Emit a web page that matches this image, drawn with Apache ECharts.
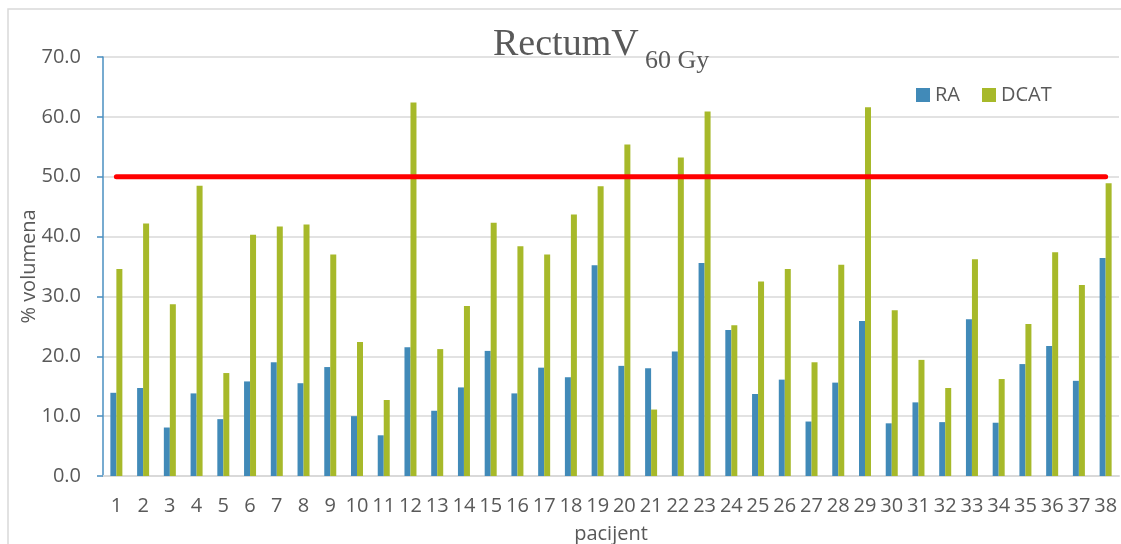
<!DOCTYPE html>
<html>
<head>
<meta charset="utf-8">
<script src="https://cdn.jsdelivr.net/npm/echarts@6/dist/echarts.min.js"></script>
<style>
  html, body { margin: 0; padding: 0; background: #fff; }
  #chart { width: 1121px; height: 544px; }
</style>
</head>
<body>
<div id="chart"></div>
<script>
// pacijenti 1..38
const patients = [];
for (let i = 1; i <= 38; i++) patients.push(String(i));

const raValues = [13.9, 14.7, 8.1, 13.8, 9.5, 15.8, 19.0, 15.5, 18.2, 10.0,
  6.8, 21.5, 10.9, 14.8, 20.9, 13.8, 18.1, 16.5, 35.2, 18.4,
  18.0, 20.8, 35.6, 24.4, 13.7, 16.1, 9.1, 15.6, 25.9, 8.8,
  12.3, 9.0, 26.2, 8.9, 18.7, 21.7, 15.9, 36.4];
const dcatValues = [34.6, 42.2, 28.7, 48.5, 17.2, 40.3, 41.7, 42.0, 37.0, 22.4,
  12.7, 62.4, 21.2, 28.4, 42.3, 38.4, 37.0, 43.7, 48.4, 55.4,
  11.1, 53.2, 60.9, 25.2, 32.5, 34.6, 19.0, 35.3, 61.6, 27.7,
  19.4, 14.7, 36.2, 16.2, 25.4, 37.4, 31.9, 48.9];
const limit = 50;
const limitLine = patients.map(() => limit);

const textColor = '#595959';
const font = 'Open Sans';

var myChart = echarts.init(document.getElementById('chart'));
var option = {
  animation: false,
  textStyle: { fontFamily: font },
  title: [
    {
      text: 'RectumV',
      left: 488,
      top: 21,
      textStyle: { fontFamily: 'Liberation Serif', fontSize: 38, fontWeight: 'normal', color: textColor }
    },
    {
      text: '60 Gy',
      left: 640,
      top: 43,
      textStyle: { fontFamily: 'Liberation Serif', fontSize: 26, fontWeight: 'normal', color: textColor }
    }
  ],
  legend: {
    left: 911,
    top: 80,
    icon: 'rect',
    itemWidth: 14,
    itemHeight: 14,
    itemGap: 22,
    data: ['RA', 'DCAT'],
    textStyle: { fontSize: 20, color: textColor, fontFamily: font }
  },
  graphic: [{
    type: 'rect',
    shape: { x: 8, y: 9, width: 1200, height: 600 },
    style: { fill: 'none', stroke: '#d9d9d9', lineWidth: 1.5 },
    silent: true
  }],
  grid: { left: 103, right: 2, top: 57, bottom: 68, outerBoundsMode: 'none' },
  xAxis: {
    type: 'category',
    data: patients,
    name: 'pacijent',
    nameLocation: 'middle',
    nameGap: 48,
    nameMoveOverlap: false,
    nameTextStyle: { fontSize: 20, color: textColor },
    axisLine: { lineStyle: { color: '#d9d9d9', width: 2 } },
    axisTick: { show: false },
    axisLabel: { interval: 0, fontSize: 20, color: textColor, margin: 20 }
  },
  yAxis: {
    type: 'value',
    min: 0,
    max: 70,
    interval: 10,
    name: '% volumena',
    nameLocation: 'middle',
    nameGap: 64,
    nameMoveOverlap: false,
    nameTextStyle: { fontSize: 20, color: textColor },
    axisLine: { show: true, lineStyle: { color: '#4a8fc0', width: 1.5 } },
    axisTick: { show: true, length: 6, lineStyle: { color: '#4a8fc0', width: 1.5 } },
    axisLabel: {
      fontSize: 20, color: textColor, margin: 22,
      formatter: v => v.toFixed(1)
    },
    splitLine: { lineStyle: { color: '#d9d9d9', width: 1.5 } }
  },
  series: [
    {
      name: 'RA',
      type: 'bar',
      data: raValues,
      barWidth: 6,
      barGap: '0%',
      itemStyle: { color: '#418ab8' }
    },
    {
      name: 'DCAT',
      type: 'bar',
      data: dcatValues,
      barWidth: 6,
      itemStyle: { color: '#a7b92a' }
    },
    {
      name: 'limit',
      type: 'line',
      data: limitLine,
      symbol: 'none',
      z: 5,
      lineStyle: { color: '#ff0000', width: 5, cap: 'round' }
    }
  ]
};
myChart.setOption(option);
</script>
</body>
</html>
